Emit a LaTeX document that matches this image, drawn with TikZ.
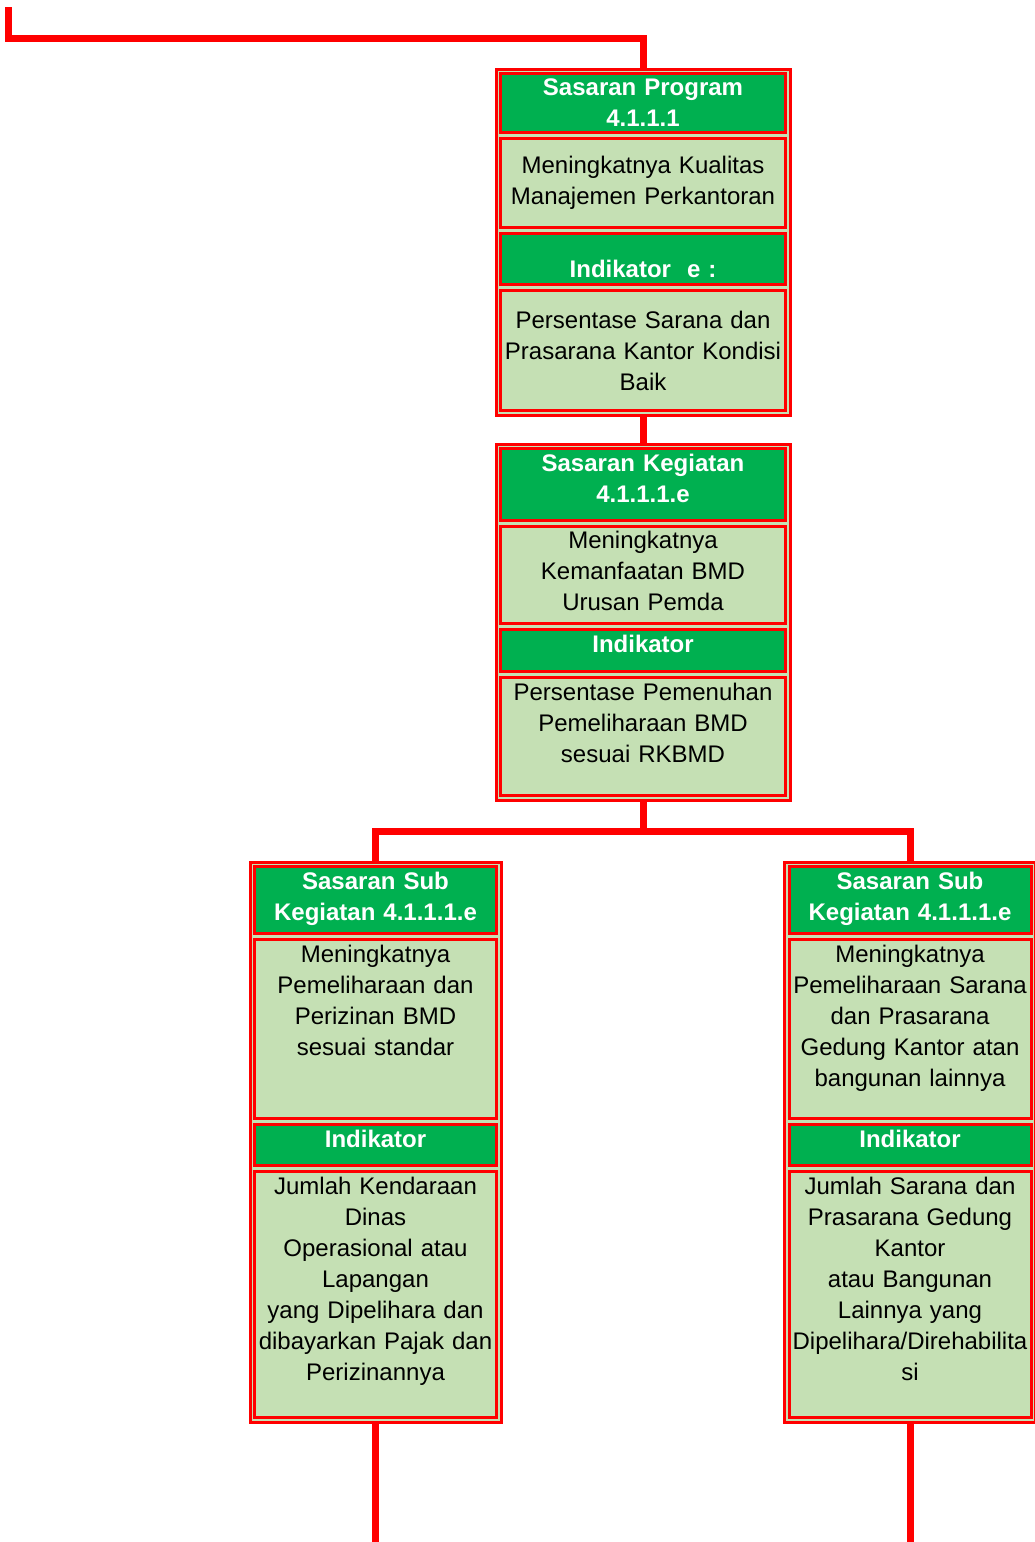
\documentclass[tikz,border=0pt]{standalone}
\usepackage{fontspec}
\setmainfont{Liberation Sans}
\usepackage{xcolor}
\usepackage{tikz}
\usetikzlibrary{positioning}
\usetikzlibrary{fit}

\definecolor{hdgreen}{RGB}{0,176,80}
\definecolor{bdgreen}{RGB}{197,224,180}

\begin{document}
\begin{tikzpicture}[
    x = 1pt,
    y = -1pt,
    font = \fontsize{24}{31}\selectfont,
    node distance = 3pt,
    cellf/.style = {
      rectangle,
      draw=red,
      line width=3pt,
      preaction={draw=bdgreen, line width=6.5pt},
      inner xsep=1pt,
      inner ysep=0pt,
      align=center
    },
    headf/.style = {
      cellf,
      fill=hdgreen,
      text=white,
      font=\fontsize{24}{31}\selectfont\bfseries
    },
    textf/.style = {
      cellf,
      fill=bdgreen,
      text=black
    },
    widef/.style = {text width=283pt, minimum width=285pt},
    narrowf/.style = {text width=240pt, minimum width=242pt},
    topf/.style = {text height=23pt, text depth=#1},
    framef/.style = {
      rectangle,
      draw=red,
      line width=3pt,
      inner sep=3pt
    },
    wiref/.style = {
      draw=red,
      line width=7pt
    }
  ]
    \useasboundingbox (0,0) rectangle (1034,1542);

    % program
    \node[headf, widef, minimum height=59pt, anchor=north] (proghd) at (643,72) {Sasaran Program\\4.1.1.1};
    \node[textf, widef, minimum height=89pt, below=of proghd] (progtx) {Meningkatnya Kualitas\\Manajemen Perkantoran};
    \node[headf, widef, text height=44pt, text depth=7pt, below=of progtx] (progind) {Indikator~~e :};
    \node[textf, widef, minimum height=120pt, below=of progind] (progval) {Persentase Sarana dan\\Prasarana Kantor Kondisi\\Baik};
    \node[framef, fit=(proghd)(progval)] (progfr) {};

    % kegiatan
    \node[headf, widef, topf=49pt, anchor=north] (keghd) at (643,447) {Sasaran Kegiatan\\4.1.1.1.e};
    \node[textf, widef, text height=22pt, text depth=75pt, below=of keghd] (kegtx) {Meningkatnya\\Kemanfaatan BMD\\Urusan Pemda};
    \node[headf, widef, topf=19pt, below=of kegtx] (kegind) {Indikator};
    \node[textf, widef, topf=95pt, below=of kegind] (kegval) {Persentase Pemenuhan\\Pemeliharaan BMD\\sesuai RKBMD};
    \node[framef, fit=(keghd)(kegval)] (kegfr) {};

    % sub kegiatan, left
    \node[headf, narrowf, topf=44pt, anchor=north] (sublhd) at (375.5,865) {Sasaran Sub\\Kegiatan 4.1.1.1.e};
    \node[textf, narrowf, topf=156pt, below=of sublhd] (subltx) {Meningkatnya\\Pemeliharaan dan\\Perizinan BMD\\sesuai standar};
    \node[headf, narrowf, topf=18pt, below=of subltx] (sublind) {Indikator};
    \node[textf, narrowf, topf=223pt, below=of sublind] (sublval) {Jumlah Kendaraan\\Dinas\\Operasional atau\\Lapangan\\yang Dipelihara dan\\dibayarkan Pajak dan\\Perizinannya};
    \node[framef, fit=(sublhd)(sublval)] (sublfr) {};

    % sub kegiatan, right
    \node[headf, narrowf, topf=44pt, anchor=north] (subrhd) at (910,865) {Sasaran Sub\\Kegiatan 4.1.1.1.e};
    \node[textf, narrowf, topf=156pt, below=of subrhd] (subrtx) {Meningkatnya\\Pemeliharaan Sarana\\dan Prasarana\\Gedung Kantor atan\\bangunan lainnya};
    \node[headf, narrowf, topf=18pt, below=of subrtx] (subrind) {Indikator};
    \node[textf, narrowf, topf=223pt, below=of subrind] (subrval) {Jumlah Sarana dan\\Prasarana Gedung\\Kantor\\atau Bangunan\\Lainnya yang\\Dipelihara/Direhabilita\\si};
    \node[framef, fit=(subrhd)(subrval)] (subrfr) {};

    % connectors
    \coordinate (start) at (8,7);
    \coordinate (bend) at (643,38);
    \coordinate (split) at (643,831);
    \coordinate (endl) at (375.5,1542);
    \coordinate (endr) at (910,1542);
    \draw[wiref] (start) |- (bend) -- (progfr.north);
    \draw[wiref] (progfr) -- (kegfr);
    \draw[wiref] (kegfr) -- (split);
    \draw[wiref] (sublfr.north) |- (split) -| (subrfr.north);
    \draw[wiref] (sublfr) -- (endl);
    \draw[wiref] (subrfr) -- (endr);
  \end{tikzpicture}
\end{document}
